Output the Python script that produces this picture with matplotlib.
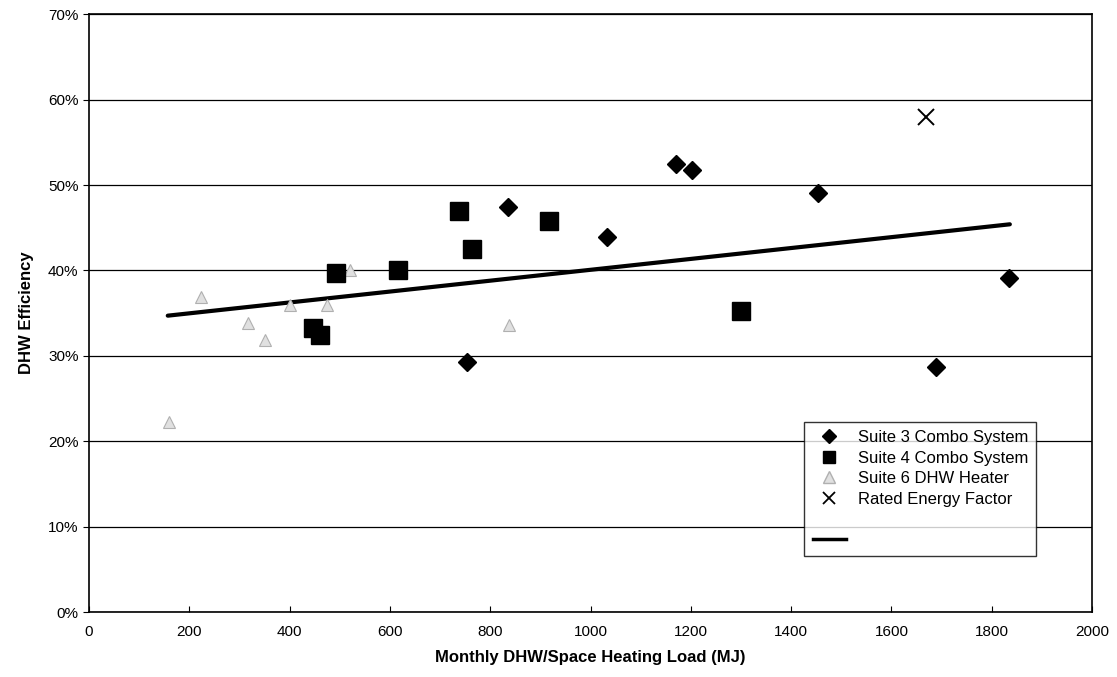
import matplotlib
matplotlib.use("Agg")
import matplotlib.pyplot as plt
from matplotlib.lines import Line2D
from matplotlib.ticker import FuncFormatter

plt.rcParams["font.family"] = ["Liberation Sans", "DejaVu Sans"]

# Suite 3 combo system (diamonds)
suite3_load = [1170, 1202, 836, 1032, 753, 1453, 1835, 1688]
suite3_eff = [52.5, 51.7, 47.4, 43.9, 29.3, 49.1, 39.1, 28.7]

# Suite 4 combo system (squares)
suite4_load = [738, 918, 764, 617, 492, 446, 461, 1299]
suite4_eff = [47.0, 45.8, 42.5, 40.0, 39.7, 33.3, 32.4, 35.3]

# Suite 6 DHW heater (triangles)
suite6_load = [223, 316, 351, 401, 475, 520, 837, 160]
suite6_eff = [36.9, 33.9, 31.9, 35.9, 35.9, 40.0, 33.6, 22.3]

# Rated energy factor
rated_load = [1669]
rated_eff = [58.0]

# Trend line end points
trend_load = [157, 1836]
trend_eff = [34.7, 45.4]

fig = plt.figure(figsize=(11.17, 6.77), dpi=100)
ax = fig.add_axes([0.0797, 0.096, 0.898, 0.883])

ax.grid(axis="y", color="black", linewidth=0.9)
ax.set_axisbelow(True)

ax.plot(trend_load, trend_eff, color="black", linewidth=3, solid_capstyle="round", zorder=2)
ax.plot(suite6_load, suite6_eff, linestyle="none", marker="^", markersize=9,
        markerfacecolor="#e0e0e0", markeredgecolor="#b0b0b0", markeredgewidth=0.8, zorder=3)
ax.plot(suite4_load, suite4_eff, linestyle="none", marker="s", markersize=12.5,
        color="black", zorder=3)
ax.plot(suite3_load, suite3_eff, linestyle="none", marker="D", markersize=9.5,
        color="black", zorder=4)
ax.plot(rated_load, rated_eff, linestyle="none", marker="x", markersize=12,
        markeredgewidth=1.4, color="black", zorder=4)

ax.set_xlim(0, 2000)
ax.set_ylim(0, 70)
ax.set_xticks(range(0, 2001, 200))
ax.set_yticks(range(0, 71, 10))
ax.yaxis.set_major_formatter(FuncFormatter(lambda v, p: f"{v:.0f}%"))
ax.tick_params(axis="x", direction="in", length=4, labelsize=11, pad=9)
ax.tick_params(axis="y", direction="out", length=4, labelsize=11)

for s in ax.spines.values():
    s.set_color("black")
    s.set_linewidth(1.2)

ax.set_xlabel("Monthly DHW/Space Heating Load (MJ)", fontsize=12, fontweight="bold", labelpad=8)
ax.set_ylabel("DHW Efficiency", fontsize=12, fontweight="bold", labelpad=10)

handles = [
    Line2D([], [], linestyle="none", marker="D", markersize=7, color="black"),
    Line2D([], [], linestyle="none", marker="s", markersize=8, color="black"),
    Line2D([], [], linestyle="none", marker="^", markersize=8,
           markerfacecolor="#e0e0e0", markeredgecolor="#b0b0b0"),
    Line2D([], [], linestyle="none", marker="x", markersize=9, markeredgewidth=1.3, color="black"),
    Line2D([], [], linestyle="none"),
    Line2D([], [], color="black", linewidth=2.5),
]
labels = ["Suite 3 Combo System", "Suite 4 Combo System", "Suite 6 DHW Heater",
          "Rated Energy Factor", " ", " "]
leg = ax.legend(handles, labels, loc="upper left", bbox_to_anchor=(0.713, 0.318),
                fontsize=12, frameon=True, fancybox=False, edgecolor="black",
                handlelength=2.0, handletextpad=0.7, labelspacing=0.33,
                borderpad=0.5, borderaxespad=0)
leg.get_frame().set_linewidth(1.0)

fig.savefig("out.png", dpi=100)
